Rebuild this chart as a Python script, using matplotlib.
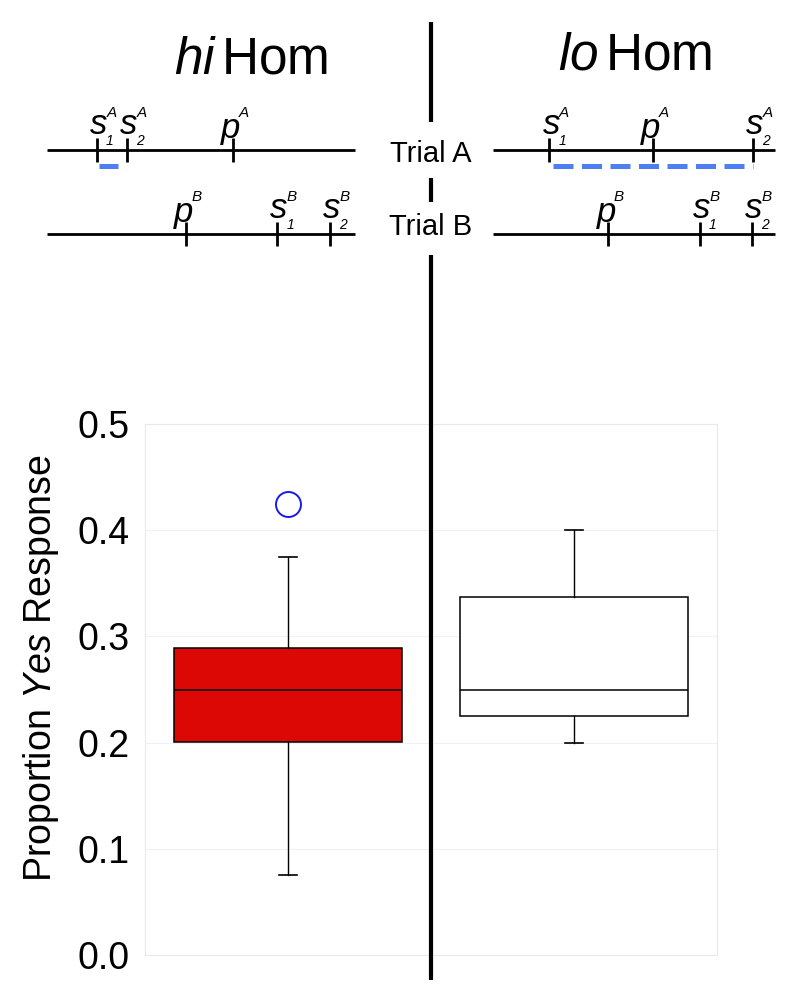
import matplotlib
matplotlib.use('Agg')
import matplotlib.pyplot as plt
from matplotlib import transforms as mtrans
from matplotlib.lines import Line2D

plt.rcParams['font.family'] = ['Liberation Sans', 'DejaVu Sans']
plt.rcParams['mathtext.fontset'] = 'custom'
plt.rcParams['mathtext.rm'] = 'Liberation Sans'
plt.rcParams['mathtext.it'] = 'Liberation Sans:italic'

# ---------------- data ----------------
conditions = ['hi', 'lo']
medians = [0.250, 0.250]
q1 = [0.201, 0.225]
q3 = [0.289, 0.337]
whisker_low = [0.075, 0.200]
whisker_high = [0.375, 0.400]
outliers = [[0.425], []]
y_ticks = [0.0, 0.1, 0.2, 0.3, 0.4, 0.5]
y_tick_labels = ['0.0', '0.1', '0.2', '0.3', '0.4', '0.5']

# schematic timelines: event order s1, s2, p ; times as fraction along line
event_letters = ['s', 's', 'p']
event_subs = ['1', '2', '']
hi_trialA_times = [0.162, 0.260, 0.604]
hi_trialB_times = [0.747, 0.919, 0.451]
lo_trialA_times = [0.199, 0.922, 0.567]
lo_trialB_times = [0.734, 0.918, 0.408]
hi_interval = [0.169, 0.2305]
lo_interval = [0.213, 0.922]
titles = [r'$\mathit{hi}\,$Hom', r'$\mathit{lo}\,$Hom']
trial_labels = ['Trial A', 'Trial B']

box_colors = ['#dc0805', 'white']
blue = '#4d7ef2'
PX = 0.72  # points per pixel at 100 dpi

fig = plt.figure(figsize=(8, 10), dpi=100)

# ---------------- main box plot ----------------
ax = fig.add_axes([145 / 800, 0.045, 572 / 800, 0.531])
stats = []
for i, c in enumerate(conditions):
    stats.append(dict(med=medians[i], q1=q1[i], q3=q3[i],
                      whislo=whisker_low[i], whishi=whisker_high[i],
                      fliers=outliers[i], label=c))
bp = ax.bxp(stats, positions=[1, 2], widths=0.8, capwidths=0.06,
            patch_artist=True, showfliers=True,
            boxprops=dict(edgecolor='black', linewidth=1.1),
            medianprops=dict(color='black', linewidth=1.1),
            whiskerprops=dict(color='black', linewidth=1.0),
            capprops=dict(color='black', linewidth=1.2),
            flierprops=dict(marker='o', markerfacecolor='none',
                            markeredgecolor='#1a1ae6', markersize=18,
                            markeredgewidth=1.4))
for patch, col in zip(bp['boxes'], box_colors):
    patch.set_facecolor(col)

ax.set_xlim(0.5, 2.5)
ax.set_ylim(0, 0.5)
ax.set_yticks(y_ticks)
ax.set_yticklabels(y_tick_labels)
ax.set_xticks([])
ax.tick_params(axis='y', length=0, pad=11, labelsize=27)
ax.yaxis.grid(True, color='#f0f0f8', linewidth=0.8)
ax.set_axisbelow(True)
for sp in ax.spines.values():
    sp.set_color('#e8e8f4')
    sp.set_linewidth(0.8)
ax.set_ylabel(r'Proportion $\mathit{Yes}$ Response', fontsize=27)
ax.yaxis.set_label_coords(-0.147, 0.54)

# ---------------- divider line ----------------
blend = mtrans.blended_transform_factory(ax.transData, fig.transFigure)
for y0, y1 in [(0.978, 0.878), (0.822, 0.798), (0.745, 0.02)]:
    fig.add_artist(Line2D([1.5, 1.5], [y0, y1], transform=blend,
                          color='black', linewidth=3.0,
                          solid_capstyle='butt'))
for lab, yb in zip(trial_labels, [0.838, 0.765]):
    fig.text(1.5, yb, lab, transform=blend, ha='center', va='baseline',
             fontsize=21)

# ---------------- titles ----------------
fig.text(251 / 800, 0.927, titles[0], ha='center', va='baseline', fontsize=37)
fig.text(635 / 800, 0.931, titles[1], ha='center', va='baseline', fontsize=37)


# ---------------- timelines ----------------
def event_label(tax, t, y, letter, sub, sup):
    if letter == 's':
        dx, base = 2, 16
    else:
        dx, base = -2, 12
    tax.annotate(letter, (t, y), xytext=(dx * PX, base * PX),
                 textcoords='offset points', ha='center', va='baseline',
                 fontsize=25, fontstyle='italic', annotation_clip=False)
    tax.annotate(sup, (t, y), xytext=((dx + 13) * PX, 33 * PX),
                 textcoords='offset points', ha='center', va='baseline',
                 fontsize=11, fontstyle='italic', annotation_clip=False)
    if sub:
        tax.annotate(sub, (t, y), xytext=((dx + 11) * PX, 5 * PX),
                     textcoords='offset points', ha='center', va='baseline',
                     fontsize=10, fontstyle='italic', annotation_clip=False)


panels = [
    (47, 308, hi_trialA_times, hi_trialB_times, hi_interval, '-'),
    (493, 282, lo_trialA_times, lo_trialB_times, lo_interval, 'dash'),
]
for x0, w, tA, tB, interval, style in panels:
    tax = fig.add_axes([x0 / 800, 1 - 234 / 1000, w / 800, 84 / 1000])
    tax.set_xlim(0, 1)
    tax.set_ylim(0, 1)
    tax.axis('off')
    for yv, times, sup in [(1, tA, 'A'), (0, tB, 'B')]:
        tax.plot([0, 1], [yv, yv], color='black', linewidth=2.0,
                 solid_capstyle='butt', clip_on=False)
        tax.plot(times, [yv] * len(times), linestyle='none', marker='|',
                 markersize=17, markeredgewidth=2.0, color='black',
                 clip_on=False)
        for t, let, sub in zip(times, event_letters, event_subs):
            event_label(tax, t, yv, let, sub, sup)
    off = mtrans.offset_copy(tax.transData, fig=fig, y=-16 * PX, units='points')
    if style == '-':
        tax.plot(interval, [1, 1], color=blue, linewidth=3.6,
                 solid_capstyle='butt', transform=off, clip_on=False)
    else:
        tax.plot(interval, [1, 1], color=blue, linewidth=3.6,
                 linestyle=(0, (4.0, 1.7)), dash_capstyle='butt',
                 transform=off, clip_on=False)

fig.savefig('out.png', dpi=100)
